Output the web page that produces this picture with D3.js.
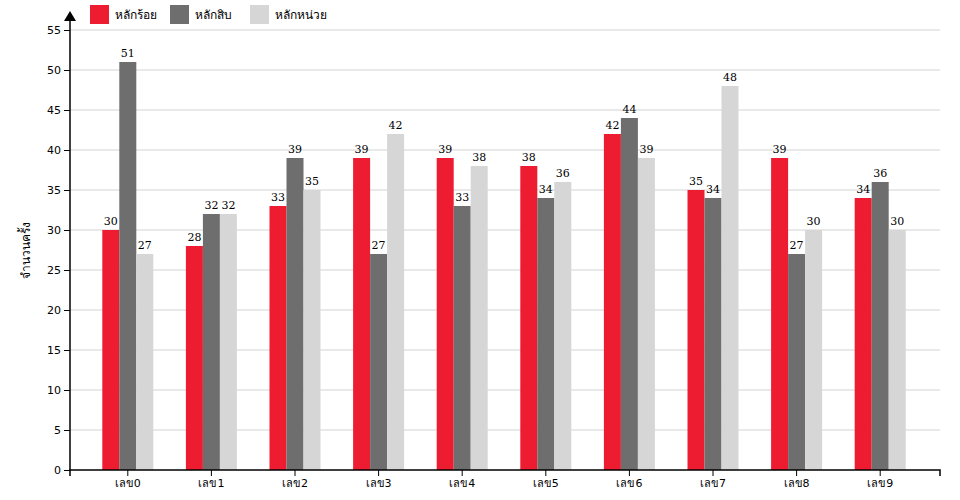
<!DOCTYPE html>
<html>
<head>
<script src="https://cdn.jsdelivr.net/npm/d3@7/dist/d3.min.js"></script>
<style>
	body { margin: 0; background: #fff; }
	.tick text { font-family: "DejaVu Sans", sans-serif; font-size: 11px; }
</style>
</head>
<body>
<svg id="chart" width="960" height="500"></svg>
<script>
	var categories = ['เลข0', 'เลข1', 'เลข2', 'เลข3', 'เลข4', 'เลข5', 'เลข6', 'เลข7', 'เลข8', 'เลข9'];
	var seriesNames = ['หลักร้อย', 'หลักสิบ', 'หลักหน่วย'];
	var hundreds = [30, 28, 33, 39, 39, 38, 42, 35, 39, 34];
	var tens = [51, 32, 39, 27, 33, 34, 44, 34, 27, 36];
	var units = [27, 32, 35, 42, 38, 36, 39, 48, 30, 30];
	var yTicks = [0, 5, 10, 15, 20, 25, 30, 35, 40, 45, 50, 55];
	var colors = ['#ee1c31', '#6e6e6e', '#d6d6d6'];

	var series = [hundreds, tens, units];
	var svg = d3.select('#chart');

	var x = d3.scaleBand().domain(categories).range([86, 922]);
	var xs = d3.scaleBand().domain(d3.range(3)).range([0, 51]);
	var y = d3.scaleLinear().domain([0, 55]).range([470, 30]);

	// grid
	svg.append('g').selectAll('line').data(yTicks.slice(1)).enter().append('line')
		.attr('x1', 70).attr('x2', 940)
		.attr('y1', d => y(d)).attr('y2', d => y(d))
		.attr('stroke', '#d3d3d3');

	var groups = svg.append('g').selectAll('g').data(categories).enter().append('g')
		.attr('transform', d => 'translate(' + (x(d) + x.bandwidth() / 2 - 25.5) + ',0)');

	groups.each(function (c, i) {
		var g = d3.select(this);
		series.forEach(function (s, j) {
			g.append('rect')
				.attr('x', xs(j)).attr('width', xs.bandwidth())
				.attr('y', y(s[i])).attr('height', y(0) - y(s[i]))
				.attr('fill', colors[j]);
			g.append('text')
				.attr('x', xs(j) + xs.bandwidth() / 2).attr('y', y(s[i]) - 5)
				.attr('text-anchor', 'middle')
				.style('font-family', '"DejaVu Serif", serif').style('font-size', '11px')
				.text(s[i]);
		});
	});

	svg.append('g').attr('transform', 'translate(0,470)')
		.call(d3.axisBottom(x).tickSizeOuter(0).tickSize(6))
		.call(g => g.select('.domain').attr('d', 'M70,6V0H940V6').attr('stroke', '#000').attr('stroke-width', 1.5));

	svg.append('g').attr('transform', 'translate(70,0)')
		.call(d3.axisLeft(y).tickValues(yTicks).tickSizeOuter(0))
		.call(g => g.select('.domain').attr('d', 'M0,470V20').attr('stroke-width', 1.5));

	svg.append('path').attr('d', 'M64,21L70,11L76,21Z').attr('fill', '#000');

	svg.append('text')
		.attr('transform', 'translate(30,250) rotate(-90)')
		.attr('text-anchor', 'middle')
		.style('font-family', '"Noto Sans", sans-serif').style('font-size', '12px')
		.text('จำนวนครั้ง');

	var legend = svg.append('g').selectAll('g').data(seriesNames).enter().append('g')
		.attr('transform', (d, i) => 'translate(' + (90 + i * 80) + ',5)');
	legend.append('rect').attr('width', 19).attr('height', 19).attr('fill', (d, i) => colors[i]);
	legend.append('text').attr('x', 25).attr('y', 14)
		.style('font-family', '"Noto Sans", sans-serif').style('font-size', '12px')
		.text(d => d);
</script>
</body>
</html>
